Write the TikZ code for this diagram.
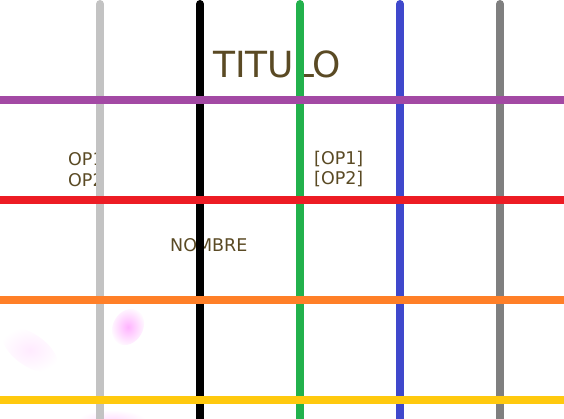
\documentclass[tikz,border=0pt]{standalone}
\usepackage{fontspec}
\setmainfont{DejaVu Sans}
\usepackage{xcolor}
\usepackage{tikz}
\usetikzlibrary{positioning}
\definecolor{lgray}{HTML}{C3C3C3}
\definecolor{lgreen}{HTML}{22B14C}
\definecolor{lblue}{HTML}{3F48CC}
\definecolor{lgrey}{HTML}{7F7F7F}
\definecolor{lpurple}{HTML}{A349A4}
\definecolor{lred}{HTML}{ED1C24}
\definecolor{lorange}{HTML}{FF7F27}
\definecolor{lyellow}{HTML}{FFC90E}
\definecolor{txtbrown}{HTML}{5A4A24}

\begin{document}
\begin{tikzpicture}[x=1pt, y=-1pt,
    vline/.style={line width=8pt, line cap=round},
    hline/.style={line width=7.5pt},
    label/.style={inner sep=0pt, anchor=base west, text=txtbrown, font=\fontsize{17.5}{20}\selectfont}]
    \useasboundingbox (0,0) rectangle (564,418);
    \clip (0,0) rectangle (564,418);

    % Faint pink smudges
    \shade[inner color=magenta!30, outer color=white, rotate around={-30:(128,327)}] (128,327) ellipse (15 and 19);
    \shade[inner color=magenta!8, outer color=white, rotate around={-35:(30,350)}] (30,350) ellipse (32 and 16);
    \shade[inner color=magenta!12, outer color=white] (112,420) ellipse (34 and 10);

    % Texts
    \node[label, font=\fontsize{36}{40}\selectfont] (titulo) at (213,77) {TITULO};
    \node[label] (op1) at (68,165) {OP1};
    \node[label] (op2) at (68,186) {OP2};
    \node[label] (bop1) at (314,164) {[OP1]};
    \node[label] (bop2) at (314,184) {[OP2]};
    \node[label] (nombre) at (170,251) {NOMBRE};

    % Vertical lines
    \draw[vline, lgray] (100,4) -- (100,430);
    \draw[vline, black] (200,4) -- (200,430);
    \draw[vline, lgreen] (300,4) -- (300,430);
    \draw[vline, lblue] (400,4) -- (400,430);
    \draw[vline, lgrey] (500,4) -- (500,430);

    % Horizontal lines
    \draw[hline, lpurple] (0,100) -- (564,100);
    \draw[hline, lred] (0,200) -- (564,200);
    \draw[hline, lorange] (0,300) -- (564,300);
    \draw[hline, lyellow] (0,400) -- (564,400);
\end{tikzpicture}
\end{document}
